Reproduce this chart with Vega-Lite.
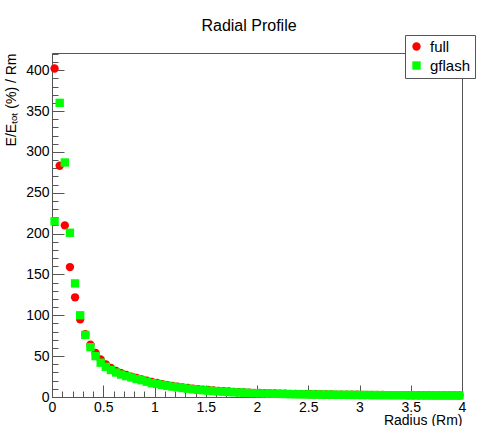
{
  "$schema": "https://vega.github.io/schema/vega-lite/v6.json",
  "width": 410,
  "height": 344,
  "autosize": {"type": "none"},
  "padding": {"left": 52, "top": 53, "right": 38, "bottom": 29},
  "background": "white",
  "title": {"text": "Radial Profile", "fontSize": 16, "font": "Liberation Sans", "fontWeight": "normal", "anchor": "middle", "dx": -8, "dy": 19, "offset": 20, "color": "black"},
  "datasets": {
    "points": [
      {"r":0.025,"v":402,"s":"full"},{"r":0.075,"v":283,"s":"full"},{"r":0.125,"v":210,"s":"full"},{"r":0.175,"v":159,"s":"full"},
      {"r":0.225,"v":122,"s":"full"},{"r":0.275,"v":95,"s":"full"},{"r":0.325,"v":77,"s":"full"},{"r":0.375,"v":64,"s":"full"},
      {"r":0.425,"v":54,"s":"full"},{"r":0.475,"v":46,"s":"full"},{"r":0.525,"v":40,"s":"full"},{"r":0.575,"v":35.5,"s":"full"},
      {"r":0.625,"v":32,"s":"full"},{"r":0.675,"v":29,"s":"full"},{"r":0.725,"v":27,"s":"full"},{"r":0.775,"v":25,"s":"full"},
      {"r":0.825,"v":23.3,"s":"full"},{"r":0.875,"v":21.6,"s":"full"},{"r":0.925,"v":20,"s":"full"},{"r":0.975,"v":18.4,"s":"full"},
      {"r":1.025,"v":17.1,"s":"full"},{"r":1.075,"v":15.8,"s":"full"},{"r":1.125,"v":14.6,"s":"full"},{"r":1.175,"v":13.6,"s":"full"},
      {"r":1.225,"v":12.6,"s":"full"},{"r":1.275,"v":11.8,"s":"full"},{"r":1.325,"v":11,"s":"full"},{"r":1.375,"v":10.3,"s":"full"},
      {"r":1.425,"v":9.6,"s":"full"},{"r":1.475,"v":9.0,"s":"full"},{"r":1.525,"v":8.5,"s":"full"},{"r":1.575,"v":8.0,"s":"full"},
      {"r":1.625,"v":7.5,"s":"full"},{"r":1.675,"v":7.1,"s":"full"},{"r":1.725,"v":6.7,"s":"full"},{"r":1.775,"v":6.3,"s":"full"},
      {"r":1.825,"v":6.0,"s":"full"},{"r":1.875,"v":5.7,"s":"full"},{"r":1.925,"v":5.4,"s":"full"},{"r":1.975,"v":5.1,"s":"full"},
      {"r":2.025,"v":4.9,"s":"full"},{"r":2.075,"v":4.7,"s":"full"},{"r":2.125,"v":4.5,"s":"full"},{"r":2.175,"v":4.3,"s":"full"},
      {"r":2.225,"v":4.15,"s":"full"},{"r":2.275,"v":4.0,"s":"full"},{"r":2.325,"v":3.85,"s":"full"},{"r":2.375,"v":3.7,"s":"full"},
      {"r":2.425,"v":3.6,"s":"full"},{"r":2.475,"v":3.5,"s":"full"},{"r":2.525,"v":3.4,"s":"full"},{"r":2.575,"v":3.3,"s":"full"},
      {"r":2.625,"v":3.2,"s":"full"},{"r":2.675,"v":3.1,"s":"full"},{"r":2.725,"v":3.0,"s":"full"},{"r":2.775,"v":2.95,"s":"full"},
      {"r":2.825,"v":2.9,"s":"full"},{"r":2.875,"v":2.8,"s":"full"},{"r":2.925,"v":2.75,"s":"full"},{"r":2.975,"v":2.7,"s":"full"},
      {"r":3.025,"v":2.6,"s":"full"},{"r":3.075,"v":2.55,"s":"full"},{"r":3.125,"v":2.5,"s":"full"},{"r":3.175,"v":2.45,"s":"full"},
      {"r":3.225,"v":2.4,"s":"full"},{"r":3.275,"v":2.35,"s":"full"},{"r":3.325,"v":2.3,"s":"full"},{"r":3.375,"v":2.28,"s":"full"},
      {"r":3.425,"v":2.25,"s":"full"},{"r":3.475,"v":2.2,"s":"full"},{"r":3.525,"v":2.18,"s":"full"},{"r":3.575,"v":2.15,"s":"full"},
      {"r":3.625,"v":2.1,"s":"full"},{"r":3.675,"v":2.08,"s":"full"},{"r":3.725,"v":2.05,"s":"full"},{"r":3.775,"v":2.02,"s":"full"},
      {"r":3.825,"v":2.0,"s":"full"},{"r":3.875,"v":1.98,"s":"full"},{"r":3.925,"v":1.95,"s":"full"},{"r":3.975,"v":1.92,"s":"full"},
      {"r":0.025,"v":215,"s":"gflash"},{"r":0.075,"v":360,"s":"gflash"},{"r":0.125,"v":287,"s":"gflash"},{"r":0.175,"v":201,"s":"gflash"},
      {"r":0.225,"v":139,"s":"gflash"},{"r":0.275,"v":100,"s":"gflash"},{"r":0.325,"v":76,"s":"gflash"},{"r":0.375,"v":61,"s":"gflash"},
      {"r":0.425,"v":50,"s":"gflash"},{"r":0.475,"v":42,"s":"gflash"},{"r":0.525,"v":37,"s":"gflash"},{"r":0.575,"v":33,"s":"gflash"},
      {"r":0.625,"v":30,"s":"gflash"},{"r":0.675,"v":27.5,"s":"gflash"},{"r":0.725,"v":25.5,"s":"gflash"},{"r":0.775,"v":24,"s":"gflash"},
      {"r":0.825,"v":22,"s":"gflash"},{"r":0.875,"v":20.5,"s":"gflash"},{"r":0.925,"v":18.7,"s":"gflash"},{"r":0.975,"v":17,"s":"gflash"},
      {"r":1.025,"v":16,"s":"gflash"},{"r":1.075,"v":14.8,"s":"gflash"},{"r":1.125,"v":13.7,"s":"gflash"},{"r":1.175,"v":12.7,"s":"gflash"},
      {"r":1.225,"v":11.8,"s":"gflash"},{"r":1.275,"v":11,"s":"gflash"},{"r":1.325,"v":10.2,"s":"gflash"},{"r":1.375,"v":9.5,"s":"gflash"},
      {"r":1.425,"v":8.9,"s":"gflash"},{"r":1.475,"v":8.3,"s":"gflash"},{"r":1.525,"v":7.8,"s":"gflash"},{"r":1.575,"v":7.3,"s":"gflash"},
      {"r":1.625,"v":6.9,"s":"gflash"},{"r":1.675,"v":6.5,"s":"gflash"},{"r":1.725,"v":6.1,"s":"gflash"},{"r":1.775,"v":5.8,"s":"gflash"},
      {"r":1.825,"v":5.5,"s":"gflash"},{"r":1.875,"v":5.2,"s":"gflash"},{"r":1.925,"v":4.9,"s":"gflash"},{"r":1.975,"v":4.7,"s":"gflash"},
      {"r":2.025,"v":4.5,"s":"gflash"},{"r":2.075,"v":4.3,"s":"gflash"},{"r":2.125,"v":4.1,"s":"gflash"},{"r":2.175,"v":3.95,"s":"gflash"},
      {"r":2.225,"v":3.8,"s":"gflash"},{"r":2.275,"v":3.65,"s":"gflash"},{"r":2.325,"v":3.5,"s":"gflash"},{"r":2.375,"v":3.4,"s":"gflash"},
      {"r":2.425,"v":3.3,"s":"gflash"},{"r":2.475,"v":3.2,"s":"gflash"},{"r":2.525,"v":3.1,"s":"gflash"},{"r":2.575,"v":3.0,"s":"gflash"},
      {"r":2.625,"v":2.9,"s":"gflash"},{"r":2.675,"v":2.85,"s":"gflash"},{"r":2.725,"v":2.8,"s":"gflash"},{"r":2.775,"v":2.7,"s":"gflash"},
      {"r":2.825,"v":2.65,"s":"gflash"},{"r":2.875,"v":2.6,"s":"gflash"},{"r":2.925,"v":2.55,"s":"gflash"},{"r":2.975,"v":2.5,"s":"gflash"},
      {"r":3.025,"v":2.45,"s":"gflash"},{"r":3.075,"v":2.4,"s":"gflash"},{"r":3.125,"v":2.35,"s":"gflash"},{"r":3.175,"v":2.3,"s":"gflash"},
      {"r":3.225,"v":2.28,"s":"gflash"},{"r":3.275,"v":2.25,"s":"gflash"},{"r":3.325,"v":2.2,"s":"gflash"},{"r":3.375,"v":2.18,"s":"gflash"},
      {"r":3.425,"v":2.15,"s":"gflash"},{"r":3.475,"v":2.1,"s":"gflash"},{"r":3.525,"v":2.08,"s":"gflash"},{"r":3.575,"v":2.05,"s":"gflash"},
      {"r":3.625,"v":2.02,"s":"gflash"},{"r":3.675,"v":2.0,"s":"gflash"},{"r":3.725,"v":1.98,"s":"gflash"},{"r":3.775,"v":1.95,"s":"gflash"},
      {"r":3.825,"v":1.93,"s":"gflash"},{"r":3.875,"v":1.9,"s":"gflash"},{"r":3.925,"v":1.88,"s":"gflash"},{"r":3.975,"v":1.86,"s":"gflash"}
    ]
  },
  "data": {"name": "points"},
  "layer": [
    {
      "transform": [{"filter": "datum.s === 'full'"}],
      "mark": {"type": "point", "filled": true, "opacity": 1, "size": 70, "strokeWidth": 0},
      "encoding": {
        "x": {"field": "r", "type": "quantitative",
          "scale": {"domain": [0, 4], "nice": false, "zero": false},
          "axis": {"orient": "bottom", "values": [0, 0.5, 1, 1.5, 2, 2.5, 3, 3.5, 4], "format": "~g", "tickSize": -12, "labelPadding": 15, "labelFlush": false,
            "title": "Radius (Rm)", "titleAnchor": "end", "titlePadding": -1, "grid": false}},
        "y": {"field": "v", "type": "quantitative",
          "scale": {"domain": [0, 421], "nice": false, "zero": false},
          "axis": {"orient": "left", "values": [0, 50, 100, 150, 200, 250, 300, 350, 400], "tickSize": -12, "labelPadding": 15,
            "title": "E/Eₜₒₜ (%) / Rm", "titleAnchor": "end", "titlePadding": 7, "grid": false}},
        "color": {"field": "s", "type": "nominal", "scale": {"domain": ["full", "gflash"], "range": ["#ff0000", "#00ff00"]}, "legend": {"title": null, "labelExpr": "datum.label + '\u00a0\u00a0\u00a0'"}},
        "shape": {"field": "s", "type": "nominal", "scale": {"domain": ["full", "gflash"], "range": ["circle", "square"]}, "legend": {"title": null, "labelExpr": "datum.label + '\u00a0\u00a0\u00a0'"}}
      }
    },
    {
      "transform": [{"filter": "datum.s === 'gflash'"}],
      "mark": {"type": "point", "filled": true, "opacity": 1, "size": 70, "strokeWidth": 0},
      "encoding": {
        "x": {"field": "r", "type": "quantitative",
          "axis": {"orient": "bottom", "values": [0,0.1,0.2,0.3,0.4,0.5,0.6,0.7,0.8,0.9,1,1.1,1.2,1.3,1.4,1.5,1.6,1.7,1.8,1.9,2,2.1,2.2,2.3,2.4,2.5,2.6,2.7,2.8,2.9,3,3.1,3.2,3.3,3.4,3.5,3.6,3.7,3.8,3.9,4],
            "tickSize": -6, "labels": false, "domain": false, "title": null, "grid": false}},
        "y": {"field": "v", "type": "quantitative",
          "axis": {"orient": "left", "values": [0,10,20,30,40,50,60,70,80,90,100,110,120,130,140,150,160,170,180,190,200,210,220,230,240,250,260,270,280,290,300,310,320,330,340,350,360,370,380,390,400,410,420],
            "tickSize": -6, "labels": false, "domain": false, "title": null, "grid": false}},
        "color": {"field": "s", "type": "nominal", "legend": {"title": null, "labelExpr": "datum.label + '\u00a0\u00a0\u00a0'"}},
        "shape": {"field": "s", "type": "nominal", "legend": {"title": null, "labelExpr": "datum.label + '\u00a0\u00a0\u00a0'"}}
      }
    }
  ],
  "resolve": {"axis": {"x": "independent", "y": "independent"}},
  "config": {
    "font": "Liberation Sans",
    "view": {"stroke": "#555", "strokeWidth": 1},
    "axis": {"domainColor": "#555", "tickColor": "#555", "labelColor": "black", "titleColor": "black",
      "labelFontSize": 14, "titleFontSize": 14, "titleFontWeight": "normal", "labelFont": "Liberation Sans", "titleFont": "Liberation Sans"},
    "legend": {"orient": "none", "legendX": 353, "legendY": -18, "strokeColor": "#555", "fillColor": "white",
      "padding": 4, "labelFontSize": 15, "labelColor": "black", "symbolSize": 70, "symbolStrokeWidth": 0, "rowPadding": 3, "labelOffset": 6}
  }
}
